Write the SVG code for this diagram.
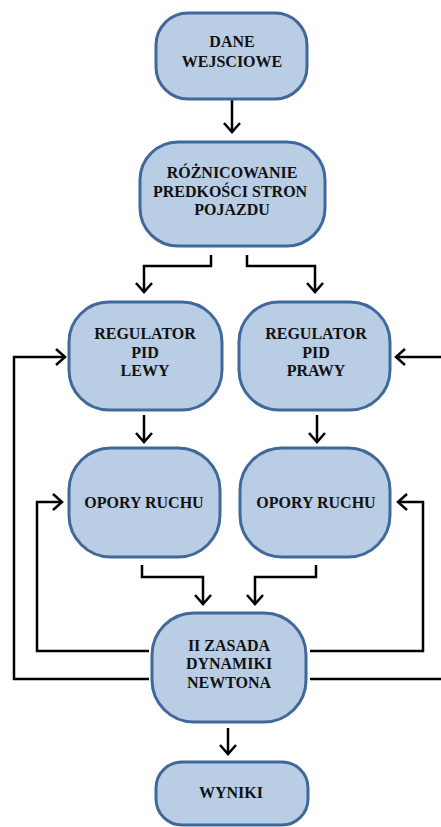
<svg xmlns="http://www.w3.org/2000/svg" width="441" height="827" viewBox="0 0 441 827">
<style>
.box{fill:#b9cde5;stroke:#41689b;stroke-width:3}
.t{font-family:"Liberation Serif","Times New Roman",serif;font-weight:bold;font-size:16px;fill:#111;text-anchor:middle}
.c{fill:none;stroke:#000;stroke-width:2.5}
</style>
<defs>
<marker id="a" viewBox="-12 -11 14 22" refX="0" refY="0" markerWidth="14" markerHeight="22" orient="auto" markerUnits="userSpaceOnUse">
<path d="M-9,-8 L0,0 L-9,8" fill="none" stroke="#000" stroke-width="2.5"/>
</marker>
</defs>
<rect width="441" height="827" fill="#fff"/>
<g id="connectors">
<path class="c" d="M232,100 V132" marker-end="url(#a)"/>
<path class="c" d="M211,255 V266 H144 V292" marker-end="url(#a)"/>
<path class="c" d="M247,255 V266 H315 V292" marker-end="url(#a)"/>
<path class="c" d="M144,415 V442" marker-end="url(#a)"/>
<path class="c" d="M317,415 V442" marker-end="url(#a)"/>
<path class="c" d="M142,565 V577 H203 V604" marker-end="url(#a)"/>
<path class="c" d="M316,565 V577 H255 V604" marker-end="url(#a)"/>
<path class="c" d="M228,728 V754" marker-end="url(#a)"/>
<path class="c" d="M149,679 H14 V357 H65" marker-end="url(#a)"/>
<path class="c" d="M310,679 H441"/>
<path class="c" d="M441,357 H396" marker-end="url(#a)"/>
<path class="c" d="M149,651 H37 V502 H62" marker-end="url(#a)"/>
<path class="c" d="M310,651 H423 V502 H398" marker-end="url(#a)"/>
</g>
<g id="dane">
<rect class="box" x="156" y="13" width="151" height="86" rx="32"/>
<text class="t" x="232" y="47">DANE</text>
<text class="t" x="232" y="67">WEJSCIOWE</text>
</g>
<g id="roznicowanie">
<rect class="box" x="140" y="142" width="185" height="104" rx="38"/>
<text class="t" x="232" y="178">RÓŻNICOWANIE</text>
<text class="t" x="230" y="197">PREDKOŚCI STRON</text>
<text class="t" x="232" y="215">POJAZDU</text>
</g>
<g id="pid-lewy">
<rect class="box" x="69" y="302" width="153" height="108" rx="40"/>
<text class="t" x="145" y="339">REGULATOR</text>
<text class="t" x="145" y="358">PID</text>
<text class="t" x="145" y="376">LEWY</text>
</g>
<g id="pid-prawy">
<rect class="box" x="239" y="302" width="151" height="108" rx="40"/>
<text class="t" x="316" y="339">REGULATOR</text>
<text class="t" x="316" y="358">PID</text>
<text class="t" x="316" y="376">PRAWY</text>
</g>
<g id="opory-lewy">
<rect class="box" x="69" y="448" width="151" height="109" rx="42"/>
<text class="t" x="144" y="508">OPORY RUCHU</text>
</g>
<g id="opory-prawy">
<rect class="box" x="240" y="448" width="150" height="109" rx="42"/>
<text class="t" x="316" y="508">OPORY RUCHU</text>
</g>
<g id="newton">
<rect class="box" x="152" y="613" width="154" height="109" rx="42"/>
<text class="t" x="229" y="651">II ZASADA</text>
<text class="t" x="229" y="669">DYNAMIKI</text>
<text class="t" x="229" y="688">NEWTONA</text>
</g>
<g id="wyniki">
<rect class="box" x="156" y="762" width="152" height="63" rx="26"/>
<text class="t" x="231" y="798">WYNIKI</text>
</g>
</svg>
